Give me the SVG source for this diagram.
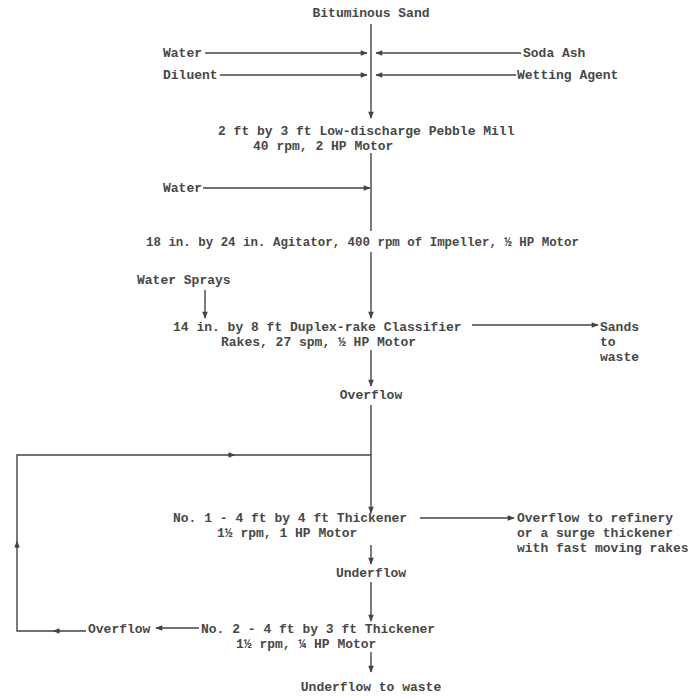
<svg xmlns="http://www.w3.org/2000/svg" width="696" height="700" viewBox="0 0 696 700">
  <defs>
    <marker id="arrow" viewBox="0 0 10 10" refX="9" refY="5" markerWidth="8" markerHeight="7" markerUnits="userSpaceOnUse" orient="auto">
      <path d="M0,1 L10,5 L0,9 Z" fill="#444444"/>
    </marker>
    <marker id="mid" viewBox="0 0 10 10" refX="5" refY="5" markerWidth="8" markerHeight="7" markerUnits="userSpaceOnUse" orient="auto">
      <path d="M0,1 L10,5 L0,9 Z" fill="#444444"/>
    </marker>
  </defs>
  <style>
    text { font-family: "Liberation Mono", "DejaVu Sans Mono", monospace; font-size: 13px; fill: #474747; font-weight: bold; }
    .c { text-anchor: middle; }
    .ln { stroke: #444444; stroke-width: 1.4; fill: none; }
    .ar { marker-end: url(#arrow); }
  </style>
  <rect width="696" height="700" fill="#ffffff"/>

  <!-- flow connectors -->
  <g id="connectors">
    <line class="ln ar" x1="371" y1="24" x2="371" y2="118"/>
    <line class="ln ar" x1="205" y1="53" x2="367" y2="53"/>
    <line class="ln ar" x1="521" y1="53" x2="376" y2="53"/>
    <line class="ln ar" x1="220" y1="75" x2="367" y2="75"/>
    <line class="ln ar" x1="516" y1="75" x2="376" y2="75"/>
    <line class="ln" x1="371" y1="153" x2="371" y2="231"/>
    <line class="ln ar" x1="203" y1="188" x2="370" y2="188"/>
    <line class="ln ar" x1="371" y1="252" x2="371" y2="318"/>
    <line class="ln ar" x1="205" y1="290" x2="205" y2="318"/>
    <line class="ln ar" x1="472" y1="325" x2="598" y2="325"/>
    <line class="ln ar" x1="371" y1="350" x2="371" y2="386"/>
    <line class="ln ar" x1="371" y1="405" x2="371" y2="513"/>
    <!-- recycle loop from No. 2 overflow back to the feed of No. 1 -->
    <polyline class="ln" points="371,455 17,455 17,631 86,631"/>
    <path class="ln" d="M60,631 L56,631" marker-end="url(#mid)"/>
    <path class="ln" d="M17,548 L17,544" marker-end="url(#mid)"/>
    <path class="ln" d="M228,455 L232,455" marker-end="url(#mid)"/>
    <line class="ln ar" x1="420" y1="518" x2="514" y2="518"/>
    <line class="ln ar" x1="371" y1="545" x2="371" y2="564"/>
    <line class="ln ar" x1="371" y1="582" x2="371" y2="621"/>
    <line class="ln ar" x1="199" y1="628" x2="156" y2="628"/>
    <line class="ln ar" x1="371" y1="652" x2="371" y2="672"/>
  </g>

  <g id="feed"><text class="c" x="371" y="17">Bituminous Sand</text></g>
  <g id="water1"><text x="163" y="57">Water</text></g>
  <g id="soda-ash"><text x="523" y="57">Soda Ash</text></g>
  <g id="diluent"><text x="163" y="79">Diluent</text></g>
  <g id="wetting-agent"><text x="517" y="79">Wetting Agent</text></g>

  <g id="pebble-mill">
    <text x="218" y="135">2 ft by 3 ft Low-discharge Pebble Mill</text>
    <text x="253" y="150">40 rpm, 2 HP Motor</text>
  </g>
  <g id="water2"><text x="163" y="192">Water</text></g>

  <g id="agitator">
    <text x="146" y="246" textLength="433" lengthAdjust="spacingAndGlyphs">18 in. by 24 in. Agitator, 400 rpm of Impeller, ½ HP Motor</text>
  </g>
  <g id="water-sprays"><text x="137" y="284">Water Sprays</text></g>

  <g id="classifier">
    <text x="173" y="331">14 in. by 8 ft Duplex-rake Classifier</text>
    <text x="221" y="346">Rakes, 27 spm, ½ HP Motor</text>
  </g>
  <g id="sands">
    <text x="600" y="331">Sands</text>
    <text x="600" y="346">to</text>
    <text x="600" y="361">waste</text>
  </g>
  <g id="overflow1"><text class="c" x="371" y="399">Overflow</text></g>

  <g id="thickener1">
    <text x="173" y="522">No. 1 - 4 ft by 4 ft Thickener</text>
    <text x="217" y="537">1½ rpm, 1 HP Motor</text>
  </g>
  <g id="refinery">
    <text x="517" y="522">Overflow to refinery</text>
    <text x="517" y="537">or a surge thickener</text>
    <text x="517" y="552">with fast moving rakes</text>
  </g>
  <g id="underflow1"><text class="c" x="371" y="577">Underflow</text></g>

  <g id="thickener2">
    <text x="201" y="633">No. 2 - 4 ft by 3 ft Thickener</text>
    <text x="236" y="648">1½ rpm, ¼ HP Motor</text>
  </g>
  <g id="overflow2"><text x="88" y="633">Overflow</text></g>
  <g id="underflow2"><text class="c" x="371" y="691">Underflow to waste</text></g>
</svg>
